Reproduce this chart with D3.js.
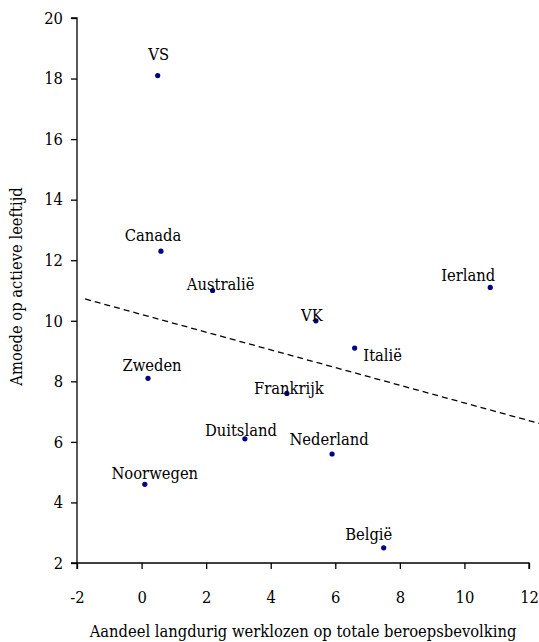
<!DOCTYPE html>
<html>
<head>
<meta charset="utf-8">
<script src="https://cdn.jsdelivr.net/npm/d3@7"></script>
<style>
  html, body { margin: 0; padding: 0; background: #fff; }
  svg { display: block; }
  svg text { font-family: "DejaVu Serif Condensed", "DejaVu Serif", serif !important; font-stretch: condensed; fill: #000; }
</style>
</head>
<body>
<script>
// ---- data ----
const countries = ["VS", "Canada", "Australië", "VK", "Ierland", "Italië", "Zweden", "Frankrijk", "Duitsland", "Nederland", "Noorwegen", "België"];
const longTermUnemployment = [0.5, 0.6, 2.2, 5.4, 10.8, 6.6, 0.2, 4.5, 3.2, 5.9, 0.1, 7.5];
const poverty = [18.1, 12.3, 11.0, 10.0, 11.1, 9.1, 8.1, 7.6, 6.1, 5.6, 4.6, 2.5];
const xTicks = [-2, 0, 2, 4, 6, 8, 10, 12];
const yTicks = [2, 4, 6, 8, 10, 12, 14, 16, 18, 20];
const trendX = [-1.75, 12.35];
const trendY = [10.72, 6.6];
const xTitle = "Aandeel langdurig werklozen op totale beroepsbevolking";
const yTitle = "Amoede op actieve leeftijd";

// ---- layout ----
const W = 539, H = 642;
const mLeft = 77, mRight = 529, mTop = 18, mBottom = 563;
const targetTitleWidth = 427;

const svg = d3.select("body").append("svg").attr("width", W).attr("height", H);

// measure the available serif font so the text widths match the reference
const probe = svg.append("text").attr("font-size", 20).text(xTitle);
const probeLen = probe.node().getComputedTextLength();
probe.remove();
const fontSize = Math.min(18, 20 * targetTitleWidth / probeLen);

// label offsets (pixels) relative to each point
const labelOffsets = {
  "VS": [1, -16], "Canada": [-8, -10], "Australië": [8, -1], "VK": [-4, 0],
  "Ierland": [-22, -6], "Italië": [28, 13], "Zweden": [4, -7], "Frankrijk": [2, 1],
  "Duitsland": [-4, -3], "Nederland": [-3, -9], "Noorwegen": [10, -5], "België": [-15, -8]
};

const x = d3.scaleLinear().domain([-2, 12]).range([mLeft, mRight]);
const y = d3.scaleLinear().domain([2, 20]).range([mBottom, mTop]);

const xAxis = d3.axisBottom(x).tickValues(xTicks).tickFormat(d => String(d)).tickSizeOuter(6).tickSizeInner(6).tickPadding(22);
const yAxis = d3.axisLeft(y).tickValues(yTicks).tickFormat(d => String(d)).tickSizeOuter(6).tickSizeInner(6).tickPadding(8);

const gx = svg.append("g").attr("transform", `translate(0,${mBottom})`).call(xAxis);
const gy = svg.append("g").attr("transform", `translate(${mLeft},0)`).call(yAxis);
[gx, gy].forEach(g => {
  g.attr("font-family", null).attr("font-size", null);
  g.select(".domain").attr("stroke", "#000").attr("stroke-width", 1.3);
  g.selectAll(".tick line").attr("stroke", "#000").attr("stroke-width", 1.3);
  g.selectAll(".tick text").attr("font-size", fontSize).attr("fill", "#000");
});
gx.select(".domain").attr("d", `M${mLeft},6V0H${mRight}V6`);
gy.select(".domain").attr("d", `M-6,${mBottom}H0V${mTop}H-6`);

// trend line
const trend = trendX.map((d, i) => [d, trendY[i]]);
svg.append("path")
  .attr("d", d3.line().x(d => x(d[0])).y(d => y(d[1]))(trend))
  .attr("fill", "none")
  .attr("stroke", "#000")
  .attr("stroke-width", 1.3)
  .attr("stroke-dasharray", "6,4");

// points
const pts = countries.map((c, i) => ({ c, x: longTermUnemployment[i], y: poverty[i] }));
svg.append("g").selectAll("circle").data(pts).join("circle")
  .attr("cx", d => x(d.x)).attr("cy", d => y(d.y)).attr("r", 2.6)
  .attr("fill", "#000080");

svg.append("g").selectAll("text").data(pts).join("text")
  .attr("x", d => x(d.x) + labelOffsets[d.c][0])
  .attr("y", d => y(d.y) + labelOffsets[d.c][1])
  .attr("text-anchor", "middle")
  .attr("font-size", fontSize)
  .text(d => d.c);

// axis titles
svg.append("text")
  .attr("x", (mLeft + mRight) / 2).attr("y", 637)
  .attr("text-anchor", "middle").attr("font-size", fontSize)
  .text(xTitle);
svg.append("text")
  .attr("transform", `translate(22,${(mTop + mBottom) / 2 - 4}) rotate(-90)`)
  .attr("text-anchor", "middle").attr("font-size", fontSize)
  .text(yTitle);
</script>
</body>
</html>
